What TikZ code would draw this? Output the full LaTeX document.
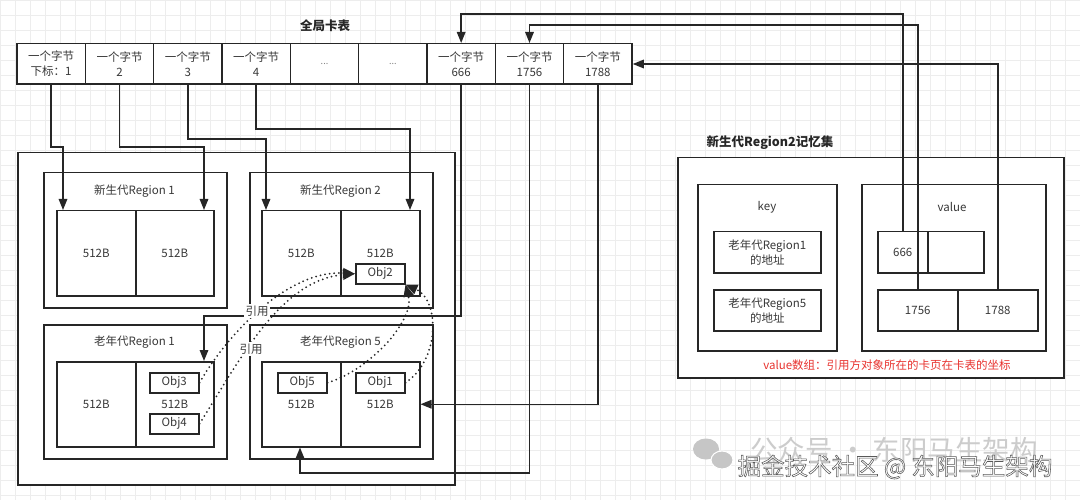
\documentclass[tikz,border=0pt]{standalone}
\usepackage{fontspec}
\setmainfont{Noto Sans CJK SC}
\usetikzlibrary{arrows.meta}
\definecolor{ln}{HTML}{262626}
\definecolor{tx}{HTML}{383838}
\definecolor{rd}{HTML}{E8332F}
\definecolor{gridc}{HTML}{EDEDED}
\newcommand{\outlinetext}[1]{\special{pdf:literal direct 2 Tr 0.55 w 0.35 0.35 0.35 RG}#1\special{pdf:literal direct 0 Tr}}
\begin{document}
\begin{tikzpicture}[x=1pt,y=-1pt,
  bx/.style={draw=ln,line width=1.5pt,inner sep=0pt,anchor=north west,fill=white,
             text=tx,align=center,font=\fontsize{11.5}{15}\selectfont},
  cell/.style={bx,anchor=center,minimum width=68.33pt,minimum height=40.5pt},
  obj/.style={bx,minimum width=49pt,minimum height=20pt},
  lbl/.style={text=tx,font=\fontsize{11.5}{14}\selectfont,inner sep=1pt},
  ttl/.style={text=ln,font=\fontsize{12.5}{15}\selectfont\bfseries},
  arr/.style={draw=ln,line width=1.5pt,-{Triangle[length=11pt,width=8.5pt]}},
  dot/.style={draw=ln,line width=2pt,line cap=round,dash pattern=on 0pt off 4.6pt,
              -{Triangle[length=12pt,width=10pt]}},
  ref/.style={lbl,fill=white,inner sep=1.5pt}]
\useasboundingbox (0,0) rectangle (1080,500);
\fill[white] (0,0) rectangle (1080,500);
\foreach \i in {0,15,...,1080} \draw[gridc,line width=0.6pt] (\i,0) -- (\i,500);
\foreach \j in {0,15,...,500} \draw[gridc,line width=0.6pt] (0,\j) -- (1080,\j);

% ---------- global card table ----------
\node[ttl] (cttl) at (325,26) {全局卡表};
\node[cell] (c1) at (51.17,64) {一个字节\\下标：1};
\node[cell] (c2) at (119.5,64) {一个字节\\2};
\node[cell] (c3) at (187.83,64) {一个字节\\3};
\node[cell] (c4) at (256.17,64) {一个字节\\4};
\node[cell,text=gray,font=\fontsize{9}{10}\selectfont] (c5) at (324.5,64) {...};
\node[cell,text=gray,font=\fontsize{9}{10}\selectfont] (c6) at (392.83,64) {...};
\node[cell] (c7) at (461.17,64) {一个字节\\666};
\node[cell] (c8) at (529.5,64) {一个字节\\1756};
\node[cell] (c9) at (597.83,64) {一个字节\\1788};

% ---------- heap ----------
\node[bx,minimum width=437pt,minimum height=332pt] (heap) at (17,152) {};
\node[bx,minimum width=183pt,minimum height=135pt] (yr1) at (43,172) {};
\node[bx,minimum width=183pt,minimum height=135pt] (yr2) at (249,172) {};
\node[bx,minimum width=183pt,minimum height=134pt] (or1) at (43,324) {};
\node[bx,minimum width=183pt,minimum height=134pt] (or5) at (249,324) {};
\node[lbl] at (134.5,191) {新生代Region 1};
\node[lbl] at (340.5,191) {新生代Region 2};
\node[lbl] at (134.5,342) {老年代Region 1};
\node[lbl] at (340.5,342) {老年代Region 5};

\node[bx,minimum width=79pt,minimum height=85pt] (yr1a) at (56,210) {512B};
\node[bx,minimum width=78pt,minimum height=85pt] (yr1b) at (135,210) {512B};
\node[bx,minimum width=79pt,minimum height=85pt] (yr2a) at (261,210) {512B};
\node[bx,minimum width=79pt,minimum height=85pt] (yr2b) at (340,210) {512B};
\node[bx,minimum width=79pt,minimum height=85pt] (or1a) at (56,361) {512B};
\node[bx,minimum width=78pt,minimum height=85pt] (or1b) at (135,361) {512B};
\node[bx,minimum width=79pt,minimum height=85pt] (or5a) at (261,361) {512B};
\node[bx,minimum width=79pt,minimum height=85pt] (or5b) at (340,361) {512B};

\node[obj] (obj2) at (355,263) {Obj2};
\node[obj] (obj3) at (149,372) {Obj3};
\node[obj] (obj4) at (149,413) {Obj4};
\node[obj] (obj5) at (277,372) {Obj5};
\node[obj] (obj1) at (355,372) {Obj1};

% ---------- remembered set ----------
\node[ttl] (rttl) at (770,143) {新生代Region2记忆集};
\node[bx,minimum width=386pt,minimum height=220pt] (rs) at (677,157) {};
\node[bx,minimum width=139pt,minimum height=166pt] (key) at (697,184) {};
\node[bx,minimum width=184pt,minimum height=166pt] (val) at (861,184) {};
\node[lbl] at (767,207) {key};
\node[lbl] at (952,207) {value};
\node[bx,minimum width=107pt,minimum height=41pt] (k1) at (713,231) {老年代Region1\\的地址};
\node[bx,minimum width=107pt,minimum height=41pt] (k2) at (713,289) {老年代Region5\\的地址};
\node[bx,minimum width=50pt,minimum height=41pt] (v666) at (877,231) {666};
\node[bx,minimum width=56pt,minimum height=41pt] (vnil) at (927,231) {};
\node[bx,minimum width=80pt,minimum height=41pt] (v1756) at (877,289) {1756};
\node[bx,minimum width=80pt,minimum height=41pt] (v1788) at (957,289) {1788};
\node[lbl,text=rd] at (887,365) {value数组：引用方对象所在的卡页在卡表的坐标};

% ---------- connectors ----------
\draw[arr] (c1.south) |- (63,147) -- (63,0 |- yr1a.north);
\draw[arr] (c2.south) |- (204,147) -- (204,0 |- yr1b.north);
\draw[arr] (c3.south) |- (266,139) -- (266,0 |- yr2a.north);
\draw[arr] (c4.south) |- (410,129) -- (410,0 |- yr2b.north);
\draw[arr] (c7.south) |- (204,316) -- (204,0 |- or1b.north);
\draw[arr] (c8.south) |- (300,473) -- (300,0 |- or5a.south);
\draw[arr] (c9.south) |- (or5b.east);
\draw[arr] (v666.north) |- (c7.north |- 0,14) -- (c7.north);
\draw[arr] (v1756.north) |- (c8.north |- 0,25) -- (c8.north);
\draw[arr] (v1788.north) |- (c9.east);

% ---------- references ----------
\draw[dot] (obj3.east) .. controls (230,330) and (290,270) .. (obj2.west);
\draw[dot] (obj4.east) .. controls (240,360) and (280,280) .. (obj2.west);
\draw[dot] (obj5.east) .. controls (370,370) and (415,320) .. (obj2.south east);
\draw[dot] (obj1.east) .. controls (440,360) and (440,300) .. (obj2.south east);
\node[ref] at (257,311) {引用};
\node[ref] at (251,349) {引用};

% ---------- watermark ----------
\fill[gray!45] (706,449) ellipse (13pt and 10.5pt);
\fill[gray!45,draw=white,line width=1pt] (722,460) ellipse (11pt and 9pt);
\node[text=gray!40,font=\fontsize{27.5}{29}\selectfont] (wm1) at (894,450) {公众号 · 东阳马生架构};
\node[text=white,font=\fontsize{23.5}{25}\selectfont] (wm2) at (895,467) {\outlinetext{掘金技术社区 @ 东阳马生架构}};
\end{tikzpicture}
\end{document}
